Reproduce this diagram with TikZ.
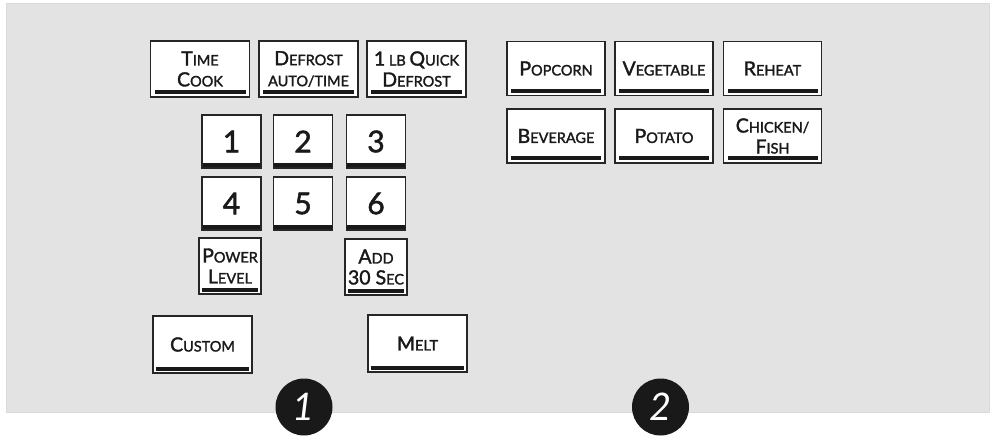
\documentclass[tikz,border=0pt]{standalone}
\usepackage{fontspec}
\setmainfont{Lato}
\newfontfamily\keyfont{Lato}[FakeBold=1.8]
\newcommand\kc[2]{{\fontsize{19.5}{21}\selectfont #1}{\fontsize{14.5}{21}\selectfont #2}}
\newcommand\ks[1]{{\fontsize{14.5}{21}\selectfont #1}}
\begin{document}
\begin{tikzpicture}[x=1pt,y=-1pt,
  key/.style={draw=black!85, line width=1.4pt, fill=white, inner sep=0pt,
    minimum width=99pt, minimum height=56pt, align=center, text=black!90,
    font=\keyfont\fontsize{19.5}{21}\selectfont},
  barA/.style={path picture={\fill[black!90]
    ([xshift=4pt,yshift=3pt]path picture bounding box.south west) rectangle
    ([xshift=-4pt,yshift=7pt]path picture bounding box.south east);}},
  barS/.style={path picture={\fill[black!90]
    ([xshift=3pt,yshift=2.5pt]path picture bounding box.south west) rectangle
    ([xshift=-3pt,yshift=6pt]path picture bounding box.south east);}},
  barN/.style={path picture={\fill[black!90]
    (path picture bounding box.south west) rectangle
    ([yshift=5.5pt]path picture bounding box.south east);}},
  topkey/.style={key, barA, minimum width=99pt, minimum height=56pt},
  rightkey/.style={key, barA, minimum width=98pt, minimum height=54pt},
  numkey/.style={key, barN, minimum width=59pt, minimum height=53pt,
    font=\keyfont\fontsize{30}{32}\selectfont},
  smallkey/.style={key, barS, minimum width=62pt, minimum height=56pt},
  widekey/.style={key, barS, minimum width=99pt, minimum height=57pt},
  marker/.style={circle, fill=black!90, minimum size=57pt, inner sep=0pt,
    text=white, font=\fontsize{38}{38}\selectfont\itshape}
]
\useasboundingbox (0,0) rectangle (995,439);
\fill[fill=black!11, draw=black!15, line width=0.5pt] (6,3) rectangle (989,412);

% left group
\node[topkey] (timecook) at (200,69) {\kc{T}{IME}\\\kc{C}{OOK}};
\node[topkey] (defrost) at (308.5,69) {\kc{D}{EFROST}\\\ks{AUTO/TIME}};
\node[topkey] (quick) at (416.5,69) {\kc{1}{ LB }\kc{Q}{UICK}\\\kc{D}{EFROST}};

\node[numkey] (n1) at (231.5,141.5) {1};
\node[numkey] (n2) at (303,141.5) {2};
\node[numkey] (n3) at (376,141.5) {3};
\node[numkey] (n4) at (231.5,203.5) {4};
\node[numkey] (n5) at (303,203.5) {5};
\node[numkey] (n6) at (376,203.5) {6};

\node[smallkey] (power) at (230,266) {\kc{P}{OWER}\\\kc{L}{EVEL}};
\node[smallkey] (add) at (376,267) {\kc{A}{DD}\\\kc{30 S}{EC}};

\node[widekey] (custom) at (202.5,344.5) {\kc{C}{USTOM}};
\node[widekey] (melt) at (417.5,343.5) {\kc{M}{ELT}};

% right group
\node[rightkey] (popcorn) at (556,68.5) {\kc{P}{OPCORN}};
\node[rightkey] (vegetable) at (664,68.5) {\kc{V}{EGETABLE}};
\node[rightkey] (reheat) at (772.5,68.5) {\kc{R}{EHEAT}};
\node[rightkey] (beverage) at (556,136) {\kc{B}{EVERAGE}};
\node[rightkey] (potato) at (664,136) {\kc{P}{OTATO}};
\node[rightkey] (chicken) at (772.5,136) {\kc{C}{HICKEN/}\\\kc{F}{ISH}};

% markers
\node[marker] (m1) at (304,407) {1};
\node[marker] (m2) at (660.5,407) {2};
\end{tikzpicture}
\end{document}
